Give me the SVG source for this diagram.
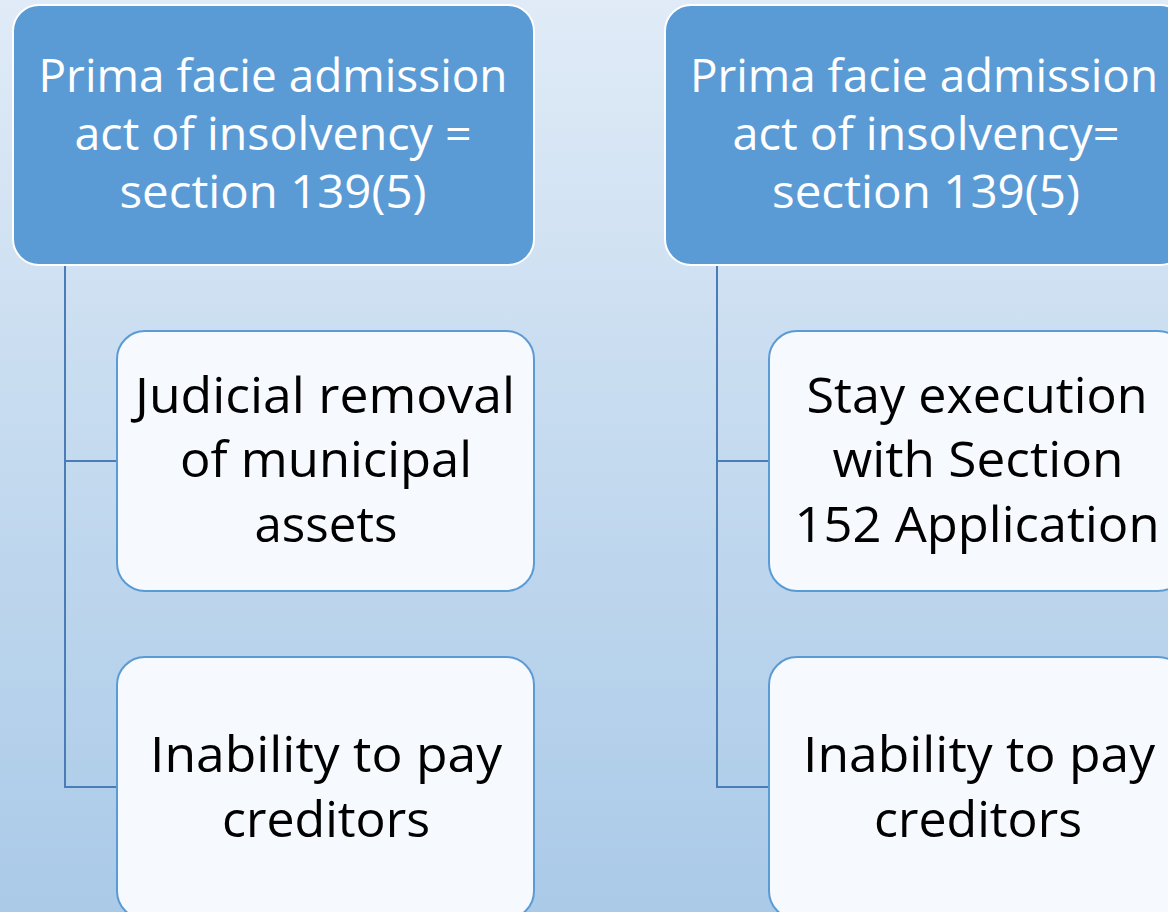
<svg xmlns="http://www.w3.org/2000/svg" width="1168" height="912" viewBox="0 0 1168 912">
<defs>
<linearGradient id="bg" x1="0" y1="0" x2="0" y2="1">
<stop offset="0" stop-color="#e0ebf7"/>
<stop offset="0.5" stop-color="#c4daef"/>
<stop offset="1" stop-color="#aacae8"/>
</linearGradient>
</defs>
<style>
.top{fill:#5b9bd5;stroke:#ffffff;stroke-width:2}
.child{fill:#f6f9fd;stroke:#5b9bd5;stroke-width:2}
.conn{fill:none;stroke:#4a7db6;stroke-width:2}
.tt{font-family:"Open Sans","Noto Sans",sans-serif;font-size:45px;fill:#ffffff;text-anchor:middle}
.ct{font-family:"Open Sans","Noto Sans",sans-serif;font-size:50px;fill:#000000;text-anchor:middle}
</style>
<rect x="0" y="0" width="1168" height="912" fill="url(#bg)"/>
<g id="connectors">
<path class="conn" d="M65,265 V787 H117 M65,461 H117"/>
<path class="conn" d="M717,265 V787 H769 M717,461 H769"/>
</g>
<g id="top-left">
<rect class="top" x="13" y="5" width="521" height="260" rx="26"/>
<text class="tt" x="273" y="92" textLength="469" lengthAdjust="spacingAndGlyphs">Prima facie admission</text>
<text class="tt" x="273" y="150" textLength="397" lengthAdjust="spacingAndGlyphs">act of insolvency =</text>
<text class="tt" x="273" y="208" textLength="307" lengthAdjust="spacingAndGlyphs">section 139(5)</text>
</g>
<g id="top-right">
<rect class="top" x="665" y="5" width="521" height="260" rx="26"/>
<text class="tt" x="924" y="92" textLength="468" lengthAdjust="spacingAndGlyphs">Prima facie admission</text>
<text class="tt" x="926" y="150" textLength="387" lengthAdjust="spacingAndGlyphs">act of insolvency=</text>
<text class="tt" x="926" y="208" textLength="308" lengthAdjust="spacingAndGlyphs">section 139(5)</text>
</g>
<g id="left-child-1">
<rect class="child" x="117" y="331" width="417" height="260" rx="28"/>
<text class="ct" x="325" y="413" textLength="380" lengthAdjust="spacingAndGlyphs">Judicial removal</text>
<text class="ct" x="326" y="477" textLength="292" lengthAdjust="spacingAndGlyphs">of municipal</text>
<text class="ct" x="326" y="542" textLength="143" lengthAdjust="spacingAndGlyphs">assets</text>
</g>
<g id="left-child-2">
<rect class="child" x="117" y="657" width="417" height="262" rx="28"/>
<text class="ct" x="326" y="772" textLength="352" lengthAdjust="spacingAndGlyphs">Inability to pay</text>
<text class="ct" x="326" y="837" textLength="208" lengthAdjust="spacingAndGlyphs">creditors</text>
</g>
<g id="right-child-1">
<rect class="child" x="769" y="331" width="417" height="260" rx="28"/>
<text class="ct" x="977" y="413" textLength="341" lengthAdjust="spacingAndGlyphs">Stay execution</text>
<text class="ct" x="978" y="477" textLength="291" lengthAdjust="spacingAndGlyphs">with Section</text>
<text class="ct" x="977" y="542" textLength="365" lengthAdjust="spacingAndGlyphs">152 Application</text>
</g>
<g id="right-child-2">
<rect class="child" x="769" y="657" width="417" height="262" rx="28"/>
<text class="ct" x="979" y="772" textLength="352" lengthAdjust="spacingAndGlyphs">Inability to pay</text>
<text class="ct" x="978" y="837" textLength="208" lengthAdjust="spacingAndGlyphs">creditors</text>
</g>
</svg>
